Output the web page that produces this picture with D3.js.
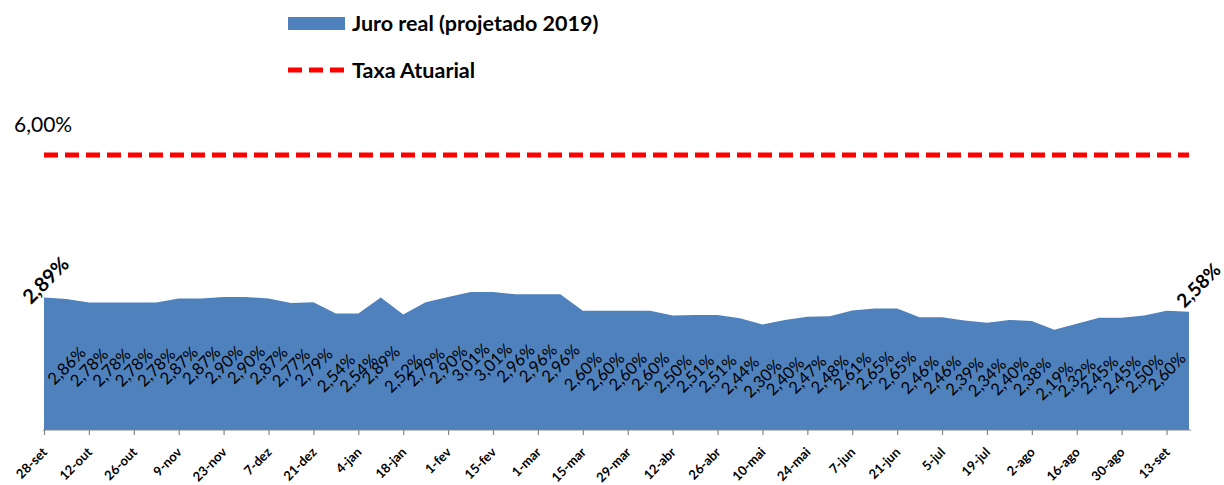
<!DOCTYPE html>
<html>
<head>
<meta charset="utf-8">
<script src="https://cdn.jsdelivr.net/npm/d3@7"></script>
<style>
  html, body { margin: 0; padding: 0; background: #fff; }
  svg { display: block; }
  text { font-family: Lato, "Noto Sans", sans-serif; fill: #000; }
</style>
</head>
<body>
<div id="chart"></div>
<script>
const categories = ["28-set","5-out","12-out","19-out","26-out","2-nov","9-nov","16-nov","23-nov","30-nov",
  "7-dez","14-dez","21-dez","28-dez","4-jan","11-jan","18-jan","25-jan","1-fev","8-fev",
  "15-fev","22-fev","1-mar","8-mar","15-mar","22-mar","29-mar","5-abr","12-abr","19-abr",
  "26-abr","3-mai","10-mai","17-mai","24-mai","31-mai","7-jun","14-jun","21-jun","28-jun",
  "5-jul","12-jul","19-jul","26-jul","2-ago","9-ago","16-ago","23-ago","30-ago","6-set",
  "13-set","20-set"];
const juroReal = [2.89,2.86,2.78,2.78,2.78,2.78,2.87,2.87,2.90,2.90,
  2.87,2.77,2.79,2.54,2.54,2.89,2.52,2.79,2.90,3.01,
  3.01,2.96,2.96,2.96,2.60,2.60,2.60,2.60,2.50,2.51,
  2.51,2.44,2.30,2.40,2.47,2.48,2.61,2.65,2.65,2.46,
  2.46,2.39,2.34,2.40,2.38,2.19,2.32,2.45,2.45,2.50,
  2.60,2.58];
const taxaAtuarial = categories.map(() => 6.00);
const tickLabels = categories.filter((d, i) => i % 2 === 0 && i <= 50);
const seriesNames = ["Juro real (projetado 2019)", "Taxa Atuarial"];

const W = 1224, H = 485;
const blue = "#4F81BD", red = "#FF0000", axisGrey = "#868686";
const fmt = v => d3.format(".2f")(v).replace(".", ",") + "%";

const svg = d3.select("#chart").append("svg").attr("width", W).attr("height", H);

const x = d3.scalePoint().domain(categories).range([44, 1189]);
const y = d3.scaleLinear().domain([0, 6]).range([430, 155]);

// area
const area = d3.area().x((d, i) => x(categories[i])).y0(y(0)).y1(d => y(d));
svg.append("path").datum(juroReal).attr("d", area).attr("fill", blue);

// taxa atuarial dashed line
const line = d3.line().x((d, i) => x(categories[i])).y(d => y(d));
svg.append("path").datum(taxaAtuarial).attr("d", line)
  .attr("fill", "none").attr("stroke", red).attr("stroke-width", 5)
  .attr("stroke-dasharray", "14,7").attr("stroke-linecap", "butt");

// x axis
const xAxis = d3.axisBottom(x).tickValues(tickLabels).tickSize(5).tickSizeOuter(0).tickFormat("");
const gx = svg.append("g").attr("transform", `translate(0,${y(0)})`).call(xAxis);
gx.select(".domain").attr("stroke", axisGrey).attr("stroke-width", 1.2)
  .attr("d", `M${x(categories[0]) - 1},0H${x(categories[categories.length - 1]) + 2}`);
gx.selectAll(".tick line").attr("stroke", axisGrey).attr("stroke-width", 1.2);

svg.append("g").selectAll("text").data(tickLabels).join("text")
  .attr("transform", d => `translate(${x(d) + 4},${y(0) + 23}) rotate(-45)`)
  .attr("text-anchor", "end")
  .attr("font-size", 13).attr("font-weight", 700)
  .text(d => d);

// inner data labels
svg.append("g").selectAll("text").data(juroReal.map((v, i) => ({v, i})).filter(d => d.i > 0 && d.i < juroReal.length - 1))
  .join("text")
  .attr("transform", d => `translate(${x(categories[d.i])},${(y(d.v) + y(0)) / 2 + 1}) rotate(-45)`)
  .attr("text-anchor", "middle").attr("dominant-baseline", "central")
  .attr("font-size", 16.5)
  .text(d => fmt(d.v));

// first and last labels
const n = juroReal.length - 1;
svg.append("text")
  .attr("transform", `translate(${x(categories[0]) + 1},${y(juroReal[0]) - 18}) rotate(-45)`)
  .attr("text-anchor", "middle").attr("dominant-baseline", "central")
  .attr("font-size", 20).attr("font-weight", 700)
  .text(fmt(juroReal[0]));
svg.append("text")
  .attr("transform", `translate(${x(categories[n]) + 9},${y(juroReal[n]) - 27}) rotate(-45)`)
  .attr("text-anchor", "middle").attr("dominant-baseline", "central")
  .attr("font-size", 19).attr("font-weight", 700)
  .text(fmt(juroReal[n]));

// 6,00% label
svg.append("text").attr("x", 14).attr("y", y(6) - 23)
  .attr("font-size", 21)
  .text(fmt(taxaAtuarial[0]));

// legend
const lg = svg.append("g");
lg.append("rect").attr("x", 288).attr("y", 17).attr("width", 57).attr("height", 13).attr("fill", blue);
lg.append("text").attr("x", 352).attr("y", 31).attr("font-size", 21.5).attr("font-weight", 700).text(seriesNames[0]);
lg.append("line").attr("x1", 288).attr("x2", 345).attr("y1", 70).attr("y2", 70)
  .attr("stroke", red).attr("stroke-width", 5).attr("stroke-dasharray", "14,7");
lg.append("text").attr("x", 352).attr("y", 78).attr("font-size", 21.5).attr("font-weight", 700).text(seriesNames[1]);
</script>
</body>
</html>
